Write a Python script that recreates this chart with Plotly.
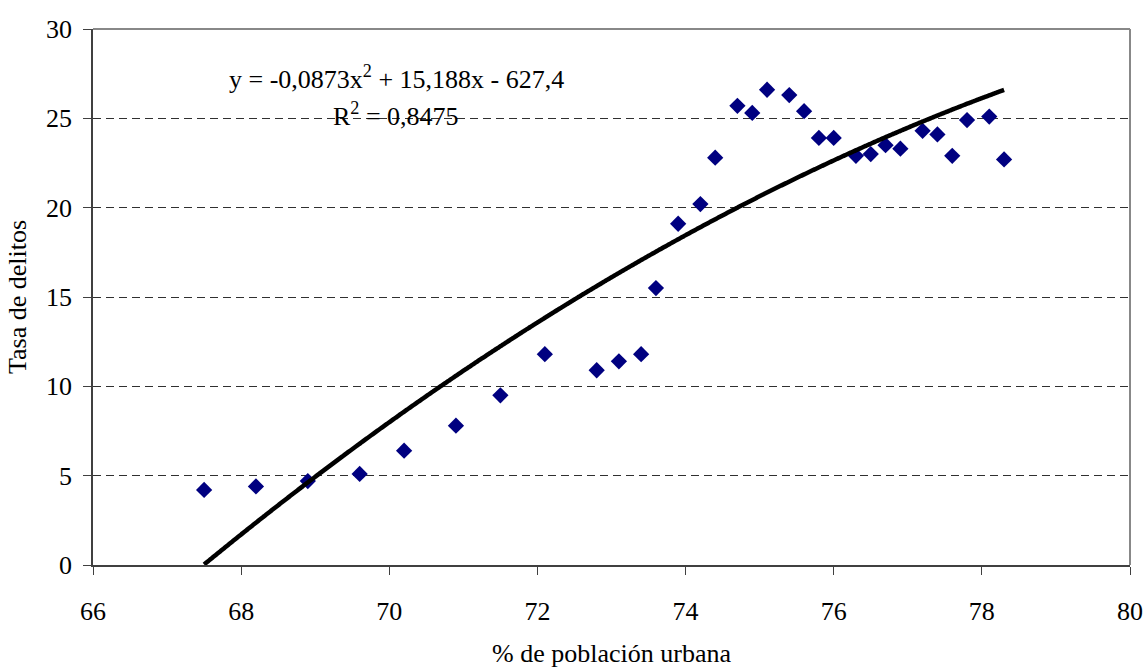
import numpy as np
import plotly.graph_objects as go

# % de población urbana vs. tasa de delitos
urban_pct = [67.5, 68.2, 68.9, 69.6, 70.2, 70.9, 71.5, 72.1, 72.8, 73.1, 73.4,
             73.6, 73.9, 74.2, 74.4, 74.7, 74.9, 75.1, 75.4, 75.6, 75.8, 76.0,
             76.3, 76.5, 76.7, 76.9, 77.2, 77.4, 77.6, 77.8, 78.1, 78.3]
crime_rate = [4.2, 4.4, 4.7, 5.1, 6.4, 7.8, 9.5, 11.8, 10.9, 11.4, 11.8,
              15.5, 19.1, 20.2, 22.8, 25.7, 25.3, 26.6, 26.3, 25.4, 23.9, 23.9,
              22.9, 23.0, 23.5, 23.3, 24.3, 24.1, 22.9, 24.9, 25.1, 22.7]

# polynomial trend (order 2): y = a x^2 + b x + c
trend_coef = [-0.0873, 15.188, -627.4]
r_squared = 0.8475

x_ticks = [66, 68, 70, 72, 74, 76, 78, 80]
y_ticks = [0, 5, 10, 15, 20, 25, 30]

xt = np.linspace(min(urban_pct), max(urban_pct), 400)
yt = np.polyval(trend_coef, xt)
keep = yt >= 0
xt, yt = xt[keep], yt[keep]

FONT = "Liberation Serif, Times New Roman, DejaVu Serif, serif"
FS = 26

W, H = 1144, 668
ML, MR, MT, MB = 93, 14, 29, 103

fig = go.Figure()
fig.add_trace(go.Scatter(
    x=urban_pct, y=crime_rate, mode="markers",
    marker=dict(symbol="diamond", size=12.5, color="#000080", line=dict(width=0)),
    showlegend=False, cliponaxis=False))
fig.add_trace(go.Scatter(
    x=xt, y=yt, mode="lines",
    line=dict(color="black", width=4.5, shape="spline"),
    showlegend=False, cliponaxis=False))

fig.update_layout(
    width=W, height=H, autosize=False,
    margin=dict(l=ML, r=MR, t=MT, b=MB, autoexpand=False),
    paper_bgcolor="white", plot_bgcolor="white",
    font=dict(family=FONT, size=FS, color="black"),
    xaxis=dict(
        range=[66, 80], tickvals=x_ticks, ticktext=[str(v) for v in x_ticks],
        automargin=False,
        showgrid=False, zeroline=False,
        showline=True, linecolor="#404040", linewidth=1.5,
        ticks="outside", ticklen=8, tickcolor="#404040",
        ticklabelstandoff=14,
        tickfont=dict(family=FONT, size=FS),
        title=dict(text="% de población urbana", standoff=20,
                   font=dict(family=FONT, size=FS))),
    yaxis=dict(
        range=[0, 30], tickvals=y_ticks, ticktext=[str(v) for v in y_ticks],
        automargin=False,
        showgrid=True, gridcolor="#303030", gridwidth=1, griddash="8px,5px",
        zeroline=False,
        showline=True, linecolor="#404040", linewidth=1.5,
        ticks="outside", ticklen=8, tickcolor="#404040",
        ticklabelstandoff=6,
        tickfont=dict(family=FONT, size=FS),
        title=dict(text="Tasa de delitos", standoff=12,
                   font=dict(family=FONT, size=FS))),
)

# gray frame on top and right of the plot area
fig.add_shape(type="line", xref="paper", yref="paper", x0=0, x1=1, y0=1, y1=1,
              line=dict(color="#888888", width=2))
fig.add_shape(type="line", xref="paper", yref="paper", x0=1, x1=1, y0=0, y1=1,
              line=dict(color="#888888", width=2))

a, b, c = trend_coef
eq_text = (f"y = {a:.4f}x<sup>2</sup> + {b:.3f}x - {abs(c):.1f}").replace(".", ",")
r2_text = f"R<sup>2</sup> = {r_squared:.4f}".replace(".", ",")

pw, ph = W - ML - MR, H - MT - MB


def px_to_paper(px, py):
    return (px - ML) / pw, 1 - (py - MT) / ph


for text, (px, py) in [(eq_text, (396, 77)), (r2_text, (396, 115))]:
    ax, ay = px_to_paper(px, py)
    fig.add_annotation(x=ax, y=ay, xref="paper", yref="paper", text=text,
                       xanchor="center", yanchor="middle", showarrow=False,
                       font=dict(family=FONT, size=FS, color="black"))

fig.write_html("out.html")
